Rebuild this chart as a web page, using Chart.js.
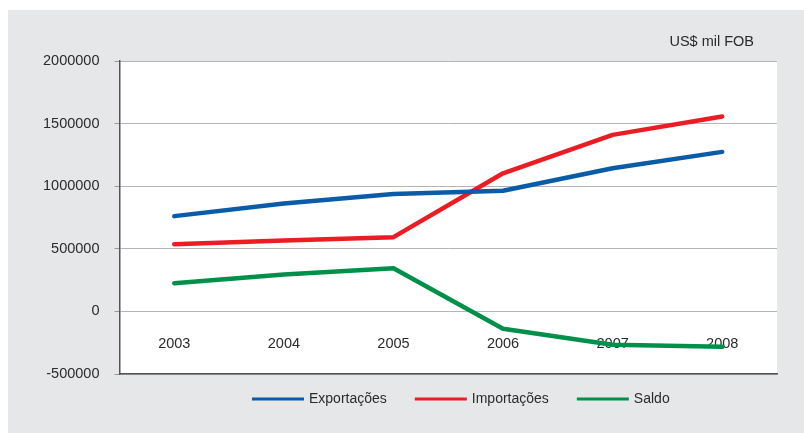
<!DOCTYPE html>
<html>
<head>
<meta charset="utf-8">
<script src="https://cdn.jsdelivr.net/npm/chart.js@4/dist/chart.umd.min.js"></script>
<style>
  html, body { margin: 0; padding: 0; background: #ffffff; }
  #wrap { position: relative; width: 804px; height: 433px; }
  canvas { display: block; }
</style>
</head>
<body>
<div id="wrap"><canvas id="c" width="804" height="433"></canvas></div>
<script>
const categories = ['2003', '2004', '2005', '2006', '2007', '2008'];
const exportacoes = [761000, 862000, 937000, 964000, 1143000, 1274000];
const importacoes = [537000, 566000, 593000, 1103000, 1410000, 1557000];
const saldo = [224000, 294000, 344000, -139000, -267000, -283000];
const yTicks = [-500000, 0, 500000, 1000000, 1500000, 2000000];
const unitLabel = 'US$ mil FOB';

const FONT = '"Liberation Sans", Arial, sans-serif';
const TEXT = '#2b2b2b';

const bgPlugin = {
  id: 'bg',
  beforeDraw(chart) {
    const { ctx, chartArea: a } = chart;
    ctx.save();
    ctx.fillStyle = '#e6e7e9';
    ctx.fillRect(8, 10, chart.width - 8, chart.height - 10);
    ctx.fillStyle = '#ffffff';
    ctx.fillRect(a.left, a.top, a.right - a.left, a.bottom - a.top);
    ctx.restore();
  },
  beforeDatasetsDraw(chart) {
    const { ctx, chartArea: a } = chart;
    const x = chart.scales.x;
    ctx.save();
    ctx.fillStyle = TEXT;
    ctx.font = '14.5px ' + FONT;
    ctx.textAlign = 'center';
    ctx.textBaseline = 'middle';
    categories.forEach((c, i) => {
      ctx.fillText(c, x.getPixelForValue(i), a.bottom - 30);
    });
    ctx.restore();
  },
  afterDraw(chart) {
    const { ctx } = chart;
    ctx.save();
    ctx.fillStyle = TEXT;
    ctx.font = '14.5px ' + FONT;
    ctx.textAlign = 'right';
    ctx.textBaseline = 'middle';
    ctx.fillText(unitLabel, 754, 42);

    // legend
    ctx.font = '14px ' + FONT;
    ctx.textAlign = 'left';
    let lx = 252;
    const ly = 399;
    chart.data.datasets.forEach(d => {
      ctx.strokeStyle = d.borderColor;
      ctx.lineWidth = 3;
      ctx.lineCap = 'butt';
      ctx.beginPath();
      ctx.moveTo(lx, ly);
      ctx.lineTo(lx + 52, ly);
      ctx.stroke();
      ctx.fillStyle = TEXT;
      ctx.fillText(d.label, lx + 57, ly);
      lx += 57 + ctx.measureText(d.label).width + 28;
    });
    ctx.restore();
  }
};

const ds = (label, data, color) => ({
  label, data,
  borderColor: color,
  backgroundColor: color,
  borderWidth: 4.5,
  borderCapStyle: 'round',
  borderJoinStyle: 'round',
  tension: 0,
  pointRadius: 0,
  pointHoverRadius: 0,
  fill: false
});

new Chart(document.getElementById('c'), {
  type: 'line',
  data: {
    labels: categories,
    datasets: [
      ds('Exportações', exportacoes, '#0a5ba8'),
      ds('Importações', importacoes, '#ec1c24'),
      ds('Saldo', saldo, '#00904a')
    ]
  },
  options: {
    responsive: false,
    animation: false,
    devicePixelRatio: 1,
    layout: { padding: { left: 20, right: 27, top: 61, bottom: 59 } },
    plugins: {
      tooltip: { enabled: false },
      legend: { display: false }
    },
    scales: {
      x: {
        type: 'category',
        offset: true,
        ticks: { display: false },
        grid: { display: false, drawTicks: false },
        border: { display: true, color: '#555555', width: 1.5 }
      },
      y: {
        min: -500000,
        max: 2000000,
        afterBuildTicks(scale) { scale.ticks = yTicks.map(v => ({ value: v })); },
        afterFit(scale) { scale.width = 99.5; },
        ticks: {
          font: { family: FONT, size: 14.5 },
          color: TEXT,
          padding: 15,
          callback: v => String(v)
        },
        grid: {
          color: '#b5b5b5',
          lineWidth: 1,
          tickLength: 5,
          tickColor: '#999999'
        },
        border: { display: true, color: '#555555', width: 1.5 }
      }
    }
  },
  plugins: [bgPlugin]
});
</script>
</body>
</html>
